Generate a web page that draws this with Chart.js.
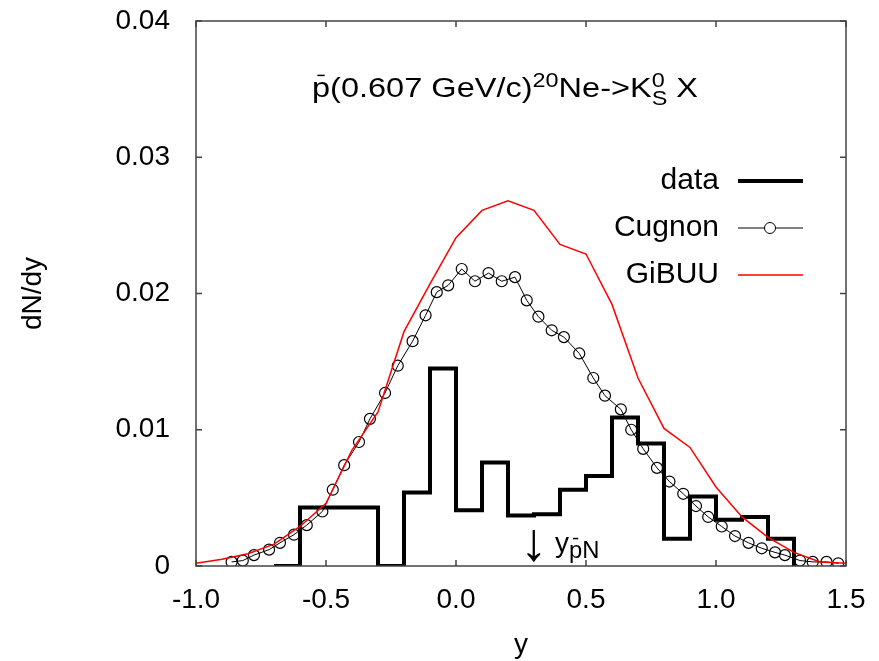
<!DOCTYPE html>
<html>
<head>
<meta charset="utf-8">
<script src="https://cdn.jsdelivr.net/npm/chart.js@4/dist/chart.umd.min.js"></script>
<style>
  body { margin: 0; background: #fff; }
</style>
</head>
<body>
<canvas id="chart" width="879" height="661"></canvas>
<script>
// histogram bin edges and contents (first point opens, each later value fills the bin to its left)
const binEdges = [-0.7, -0.6, -0.5, -0.4, -0.3, -0.2, -0.1, 0.0, 0.1, 0.2, 0.3,
                  0.4, 0.5, 0.6, 0.7, 0.8, 0.9, 1.0, 1.1, 1.2, 1.3, 1.3];
const dataValues = [0, 0, 0.0043, 0.0043, 0.0043, 0, 0.0054, 0.0145, 0.0041, 0.0076, 0.0037,
                    0.0038, 0.0056, 0.0066, 0.0109, 0.0090, 0.0020, 0.0051, 0.0034, 0.0036, 0.0020, 0];

// Cugnon model points
const cugnonX = [-0.863, -0.820, -0.777, -0.719, -0.677, -0.623, -0.574, -0.514, -0.474, -0.430,
                 -0.373, -0.331, -0.273, -0.224, -0.167, -0.117, -0.074, -0.030, 0.022, 0.073,
                 0.125, 0.176, 0.227, 0.272, 0.317, 0.368, 0.415, 0.474, 0.528, 0.573,
                 0.634, 0.674, 0.720, 0.773, 0.821, 0.874, 0.923, 0.970, 1.022, 1.073,
                 1.125, 1.176, 1.227, 1.265, 1.323, 1.372, 1.425, 1.470];
const cugnonY = [0.0003, 0.0004, 0.0008, 0.0012, 0.0017, 0.0023, 0.0030, 0.0040, 0.0056, 0.0074,
                 0.0091, 0.0108, 0.0127, 0.0147, 0.0165, 0.0184, 0.0201, 0.0206, 0.0218, 0.0209,
                 0.0215, 0.0209, 0.0212, 0.0195, 0.0183, 0.0173, 0.0168, 0.0156, 0.0138, 0.0125,
                 0.0115, 0.0100, 0.0086, 0.0072, 0.0062, 0.0053, 0.0044, 0.0036, 0.0029, 0.0022,
                 0.0017, 0.0013, 0.0010, 0.0008, 0.0004, 0.0003, 0.0003, 0.0002];

// GiBUU model curve
const gibuuX = [-1.0, -0.9, -0.8, -0.7, -0.6, -0.5, -0.4, -0.3, -0.2, -0.1, 0.0, 0.1, 0.2,
                0.3, 0.4, 0.5, 0.6, 0.7, 0.8, 0.9, 1.0, 1.1, 1.2, 1.3, 1.4, 1.5];
const gibuuY = [0.0002, 0.0005, 0.0009, 0.0016, 0.0029, 0.0046, 0.0085, 0.0113, 0.0172, 0.0207,
                0.0241, 0.0261, 0.0268, 0.0261, 0.0236, 0.0229, 0.0192, 0.0138, 0.0101, 0.0087,
                0.0058, 0.0036, 0.0021, 0.0010, 0.0003, 0.0002];

const xTicks = [-1.0, -0.5, 0.0, 0.5, 1.0, 1.5];
const yTicks = [0, 0.01, 0.02, 0.03, 0.04];
const legendLabels = ['data', 'Cugnon', 'GiBUU'];

const FONT = '"Liberation Sans", Arial, sans-serif';
const FS = 28;

function toPoints(xs, ys) {
    return xs.map((x, i) => ({ x: x, y: ys[i] }));
}

// width of a rich text run
function richWidth(ctx, parts, size) {
    let w = 0;
    parts.forEach(p => {
        if (p.stack) {
            ctx.font = `${size * 0.72}px ${FONT}`;
            w += Math.max(ctx.measureText(p.sup).width, ctx.measureText(p.sub).width);
            return;
        }
        const s = (p.sup || p.sub) ? size * (p.scale || 0.72) : size;
        ctx.font = `${s}px ${FONT}`;
        w += ctx.measureText(p.t).width;
    });
    return w;
}

// draw text made of pieces (normal / sup / sub / stacked / overbar)
function drawRich(ctx, x, y, parts, size) {
    ctx.textBaseline = 'alphabetic';
    ctx.textAlign = 'left';
    parts.forEach(p => {
        if (p.stack) {
            ctx.font = `${size * 0.72}px ${FONT}`;
            const w1 = ctx.measureText(p.sup).width;
            const w2 = ctx.measureText(p.sub).width;
            ctx.fillText(p.sup, x, y - size * 0.38);
            ctx.fillText(p.sub, x, y + size * 0.28);
            x += Math.max(w1, w2);
            return;
        }
        let s = size, dy = 0;
        if (p.sup) { s = size * (p.scale || 0.72); dy = -size * 0.38; }
        if (p.sub) { s = size * (p.scale || 0.72); dy = size * (p.shift || 0.28); }
        ctx.font = `${s}px ${FONT}`;
        const w = ctx.measureText(p.t).width;
        ctx.fillText(p.t, x, y + dy);
        if (p.bar) {
            ctx.save();
            ctx.lineWidth = 1.5;
            ctx.beginPath();
            ctx.moveTo(x + w * 0.3, y + dy - s * 0.8);
            ctx.lineTo(x + w * 0.7, y + dy - s * 0.8);
            ctx.stroke();
            ctx.restore();
        }
        x += w;
    });
}

const framePlugin = {
    id: 'frame',
    afterDatasetsDraw(chart) {
        const ctx = chart.ctx;
        const a = chart.chartArea;
        const xs = chart.scales.x, ys = chart.scales.y;
        ctx.save();
        ctx.strokeStyle = '#444';
        ctx.lineWidth = 1.5;
        ctx.strokeRect(a.left, a.top, a.right - a.left, a.bottom - a.top);
        // inward ticks on all four sides
        ctx.beginPath();
        xTicks.forEach(v => {
            const px = xs.getPixelForValue(v);
            ctx.moveTo(px, a.bottom); ctx.lineTo(px, a.bottom - 6);
            ctx.moveTo(px, a.top); ctx.lineTo(px, a.top + 6);
        });
        yTicks.forEach(v => {
            const py = ys.getPixelForValue(v);
            ctx.moveTo(a.left, py); ctx.lineTo(a.left + 6, py);
            ctx.moveTo(a.right, py); ctx.lineTo(a.right - 6, py);
        });
        ctx.stroke();

        ctx.fillStyle = '#000';
        ctx.strokeStyle = '#000';

        // title inside the plot, stretched to the width it has in the figure
        const titleParts = [
            { t: 'p', bar: true },
            { t: '(0.607 GeV/c)' },
            { t: '20', sup: true },
            { t: 'Ne->K' },
            { stack: true, sup: '0', sub: 'S' },
            { t: ' X' }
        ];
        const tSize = 27;
        const tw = richWidth(ctx, titleParts, tSize);
        ctx.save();
        ctx.translate(312, 97);
        ctx.scale(386 / tw, 1);
        drawRich(ctx, 0, 0, titleParts, tSize);
        ctx.restore();

        // arrow at y(pbar N)
        const ax = xs.getPixelForValue(0.3);
        ctx.font = `54px ${FONT}`;
        ctx.textAlign = 'center';
        ctx.textBaseline = 'middle';
        ctx.fillText('\u2193', ax, 545);
        drawRich(ctx, ax + 21, 552, [
            { t: 'y' },
            { t: 'p', sub: true, bar: true, scale: 0.85, shift: 0.2 },
            { t: 'N', sub: true, scale: 0.85, shift: 0.2 }
        ], 28);

        // legend
        const ds = chart.data.datasets;
        const rowY = [181, 228, 275];
        ctx.font = `30px ${FONT}`;
        ctx.textAlign = 'right';
        ctx.textBaseline = 'middle';
        ds.forEach((d, i) => {
            const y = rowY[i];
            ctx.fillStyle = '#000';
            ctx.fillText(legendLabels[i], 719, y);
            ctx.strokeStyle = d.borderColor;
            ctx.lineWidth = d.borderWidth;
            ctx.beginPath();
            ctx.moveTo(738, y); ctx.lineTo(803, y);
            ctx.stroke();
            if (d.pointRadius > 0) {
                ctx.fillStyle = '#fff';
                ctx.beginPath();
                ctx.arc(770, y, d.pointRadius, 0, Math.PI * 2);
                ctx.fill();
                ctx.stroke();
            }
        });

        // axis titles
        ctx.fillStyle = '#000';
        ctx.font = `${FS}px ${FONT}`;
        ctx.textAlign = 'center';
        ctx.textBaseline = 'middle';
        ctx.fillText('y', (a.left + a.right) / 2, 645);
        ctx.save();
        ctx.translate(33, (a.top + a.bottom) / 2);
        ctx.rotate(-Math.PI / 2);
        ctx.fillText('dN/dy', 0, 0);
        ctx.restore();
        ctx.restore();
    }
};

new Chart(document.getElementById('chart'), {
    type: 'line',
    data: {
        datasets: [
            {
                label: 'data',
                data: toPoints(binEdges, dataValues),
                stepped: 'after',
                borderColor: '#000',
                borderWidth: 4,
                borderJoinStyle: 'miter',
                pointRadius: 0,
                fill: false,
                order: 3
            },
            {
                label: 'Cugnon',
                data: toPoints(cugnonX, cugnonY),
                borderColor: '#000',
                borderWidth: 1,
                pointRadius: 5.5,
                pointBorderWidth: 1.2,
                pointBorderColor: '#000',
                pointBackgroundColor: 'rgba(255,255,255,0)',
                tension: 0,
                fill: false,
                order: 2
            },
            {
                label: 'GiBUU',
                data: toPoints(gibuuX, gibuuY),
                borderColor: '#ff0000',
                borderWidth: 1.5,
                pointRadius: 0,
                tension: 0,
                fill: false,
                order: 1
            }
        ]
    },
    options: {
        responsive: false,
        animation: false,
        layout: { padding: { top: 21, right: 33, left: 0, bottom: 0 } },
        scales: {
            x: {
                type: 'linear',
                min: -1.0,
                max: 1.5,
                grid: { display: false },
                border: { display: false },
                ticks: {
                    stepSize: 0.5,
                    maxRotation: 0,
                    padding: 9,
                    color: '#000',
                    font: { family: FONT, size: FS },
                    callback: v => v.toFixed(1)
                },
                afterFit(scale) {
                    scale.height = 95;
                    scale.paddingLeft = 0;
                    scale.paddingRight = 0;
                }
            },
            y: {
                type: 'linear',
                min: 0,
                max: 0.04,
                grid: { display: false },
                border: { display: false },
                ticks: {
                    stepSize: 0.01,
                    padding: 18,
                    color: '#000',
                    font: { family: FONT, size: FS },
                    callback: v => (Math.abs(v) < 1e-9 ? '0' : v.toFixed(2))
                },
                afterFit(scale) {
                    scale.width = 196;
                    scale.paddingTop = 0;
                    scale.paddingBottom = 0;
                }
            }
        },
        plugins: {
            legend: { display: false },
            tooltip: { enabled: false }
        }
    },
    plugins: [framePlugin]
});
</script>
</body>
</html>
